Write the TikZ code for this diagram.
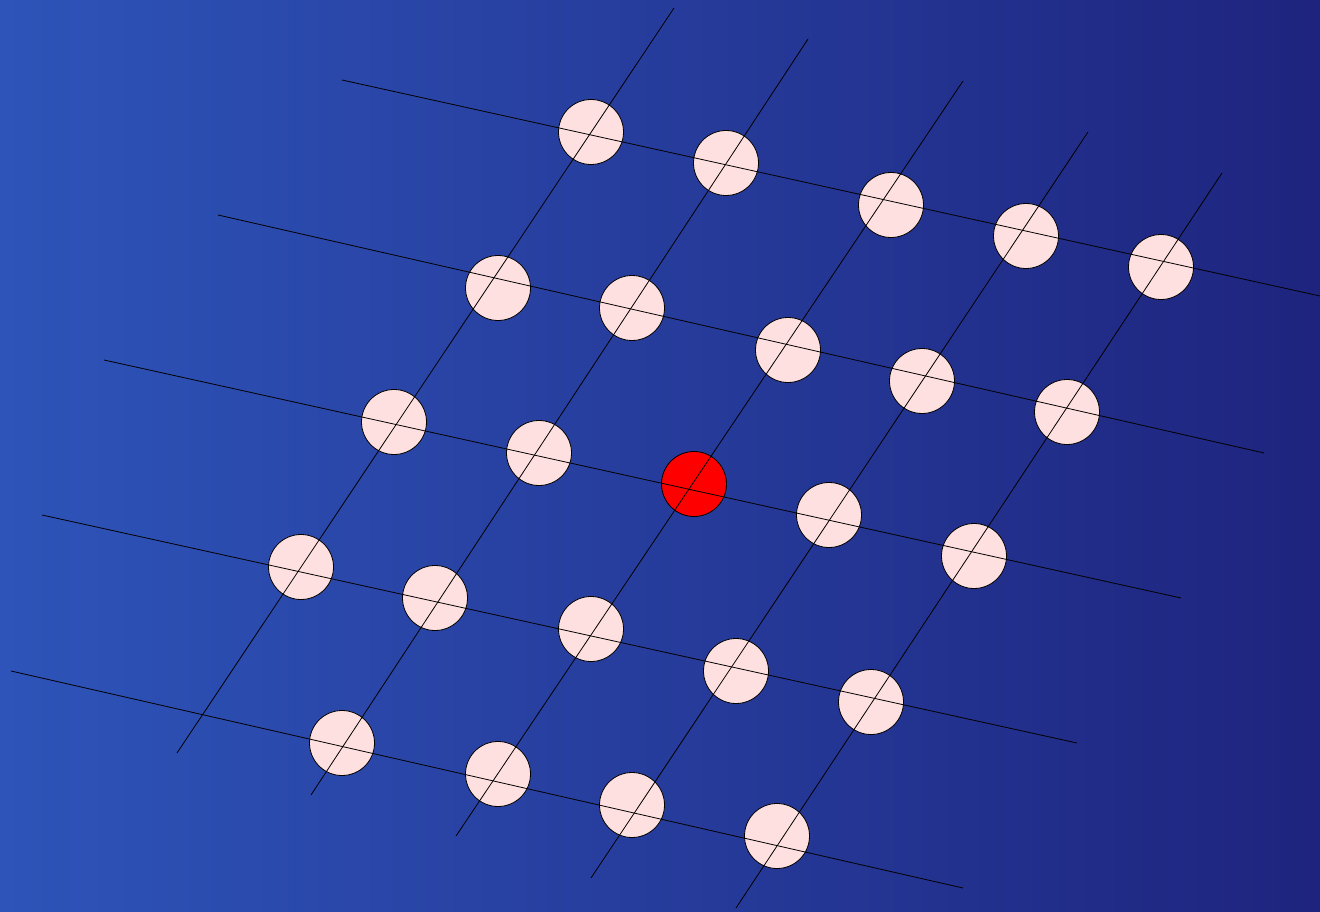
\documentclass[tikz,border=0pt]{standalone}
\definecolor{bgleft}{RGB}{46,84,185}
\definecolor{bgright}{RGB}{30,36,126}
\definecolor{dotfill}{RGB}{255,224,224}
\tikzset{
  dot/.style={circle,draw=black,line width=0.8pt,fill=dotfill,minimum size=65pt,inner sep=0pt},
  hot/.style={dot,fill=red},
  gridline/.style={draw=black,line width=0.8pt}
}
\begin{document}
\begin{tikzpicture}[x=1pt,y=-1pt]
\shade[left color=bgleft,right color=bgright] (0,0) rectangle (1320,912);
\useasboundingbox (0,0) rectangle (1320,912);
% row 1
\node[dot] (a1) at (591,132) {};
\node[dot] (a2) at (726,163) {};
\node[dot] (a3) at (891,205) {};
\node[dot] (a4) at (1026,236) {};
\node[dot] (a5) at (1161,267) {};
% row 2
\node[dot] (b1) at (498,288) {};
\node[dot] (b2) at (632,308) {};
\node[dot] (b3) at (788,350) {};
\node[dot] (b4) at (922,381) {};
\node[dot] (b5) at (1067,412) {};
% row 3
\node[dot] (c1) at (394,422) {};
\node[dot] (c2) at (539,453) {};
\node[hot] (c3) at (694,484) {};
\node[dot] (c4) at (829,515) {};
\node[dot] (c5) at (974,556) {};
% row 4
\node[dot] (d1) at (301,567) {};
\node[dot] (d2) at (435,598) {};
\node[dot] (d3) at (591,629) {};
\node[dot] (d4) at (736,671) {};
\node[dot] (d5) at (871,702) {};
% row 5
\node[dot] (e2) at (342,743) {};
\node[dot] (e3) at (498,774) {};
\node[dot] (e4) at (632,805) {};
\node[dot] (e5) at (777,836) {};
% line ends
\coordinate (h1s) at (342,80);   \coordinate (h1e) at (1320,296);
\coordinate (h2s) at (218,215);  \coordinate (h2e) at (1264,453);
\coordinate (h3s) at (104,360);  \coordinate (h3e) at (1181,598);
\coordinate (h4s) at (42,515);   \coordinate (h4e) at (1077,743);
\coordinate (h5s) at (11,671);   \coordinate (h5e) at (963,888);
\coordinate (v1s) at (177,753);  \coordinate (v1e) at (674,8);
\coordinate (v2s) at (311,795);  \coordinate (v2e) at (808,39);
\coordinate (v3s) at (456,836);  \coordinate (v3e) at (963,81);
\coordinate (v4s) at (591,878);  \coordinate (v4e) at (1088,132);
\coordinate (v5s) at (736,908);  \coordinate (v5e) at (1222,173);
\foreach \l in {h1,h2,h3,h4,h5,v1,v2,v3,v4,v5}
  \draw[gridline] (\l s) -- (\l e);
\end{tikzpicture}
\end{document}
